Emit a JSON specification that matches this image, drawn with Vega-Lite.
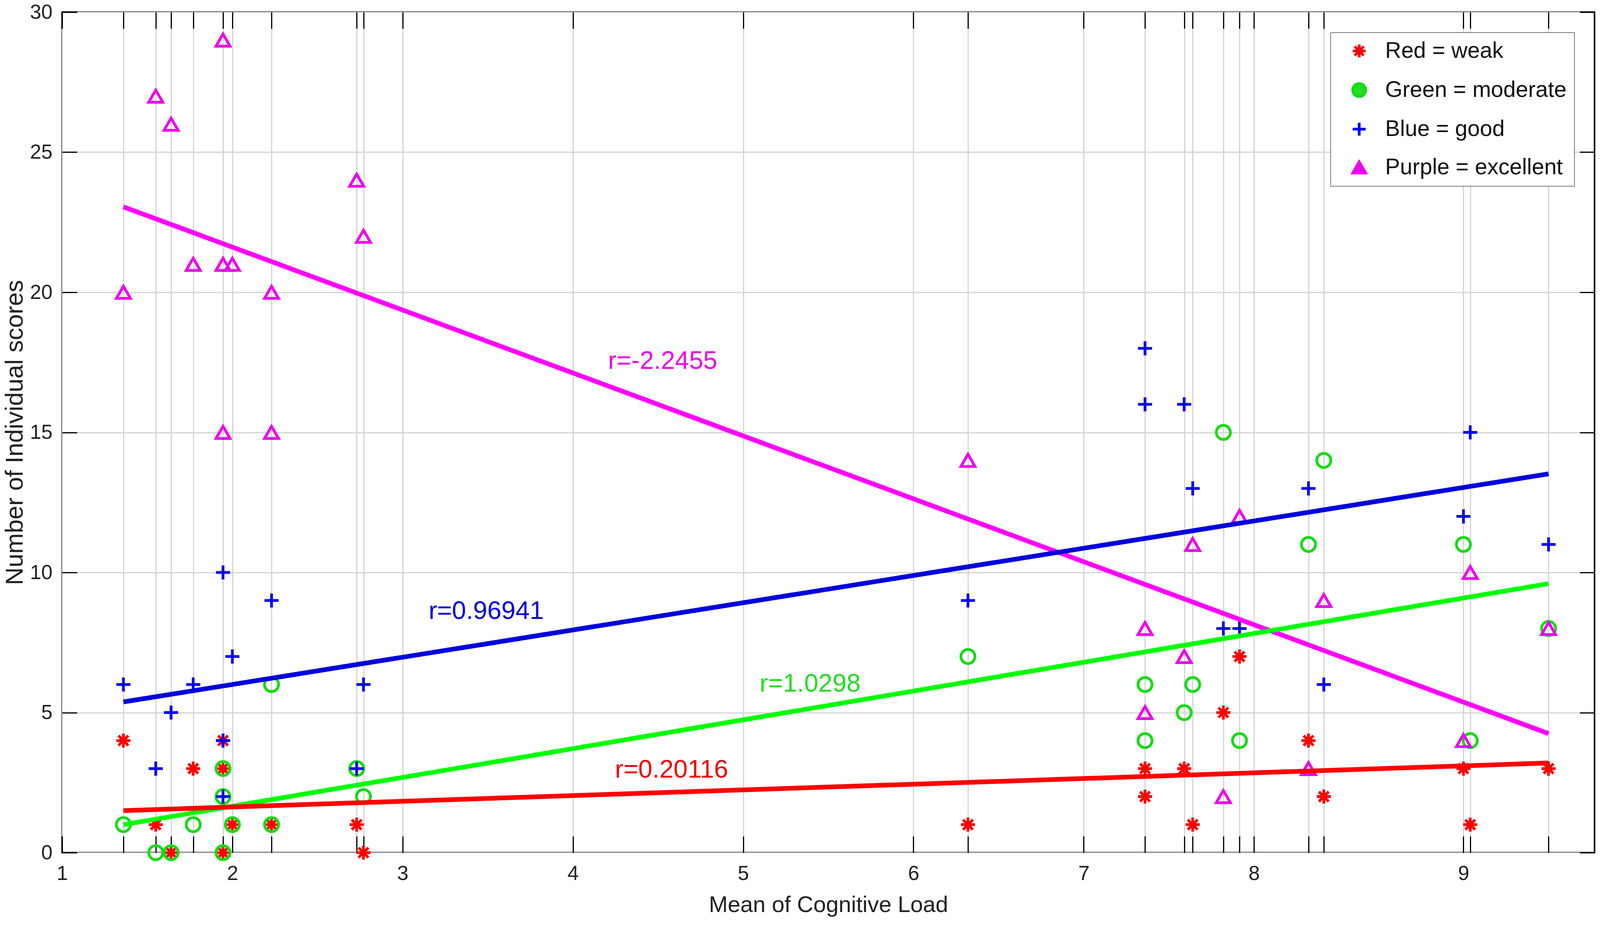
{
  "$schema": "https://vega.github.io/schema/vega-lite/v6.json",
  "width": "container",
  "height": 2403,
  "autosize": {"type": "fit", "contains": "padding"},
  "padding": {"left": 7, "top": 5, "right": 12, "bottom": 58},
  "background": "white",
  "config": {
    "view": {"stroke": "#000000", "strokeWidth": 4},
    "font": "Liberation Sans",
    "legend": {"symbolFillColor": "#ffffff", "symbolBaseFillColor": "#ffffff"}
  },
  "datasets": {
    "pts": [
      {"g": "Red = weak", "x": 1.36, "y": 4}, {"g": "Red = weak", "x": 1.55, "y": 1}, {"g": "Red = weak", "x": 1.64, "y": 0}, {"g": "Red = weak", "x": 1.77, "y": 3},
      {"g": "Red = weak", "x": 1.945, "y": 4}, {"g": "Red = weak", "x": 1.945, "y": 3}, {"g": "Red = weak", "x": 1.945, "y": 0}, {"g": "Red = weak", "x": 2.0, "y": 1},
      {"g": "Red = weak", "x": 2.23, "y": 1}, {"g": "Red = weak", "x": 2.73, "y": 1}, {"g": "Red = weak", "x": 2.77, "y": 0}, {"g": "Red = weak", "x": 6.32, "y": 1},
      {"g": "Red = weak", "x": 7.36, "y": 3}, {"g": "Red = weak", "x": 7.36, "y": 2}, {"g": "Red = weak", "x": 7.59, "y": 3}, {"g": "Red = weak", "x": 7.64, "y": 1},
      {"g": "Red = weak", "x": 7.82, "y": 5}, {"g": "Red = weak", "x": 7.915, "y": 7}, {"g": "Red = weak", "x": 8.32, "y": 4}, {"g": "Red = weak", "x": 8.41, "y": 2},
      {"g": "Red = weak", "x": 9.23, "y": 3}, {"g": "Red = weak", "x": 9.27, "y": 1}, {"g": "Red = weak", "x": 9.73, "y": 3},
      {"g": "Green = moderate", "x": 1.36, "y": 1}, {"g": "Green = moderate", "x": 1.55, "y": 0}, {"g": "Green = moderate", "x": 1.64, "y": 0}, {"g": "Green = moderate", "x": 1.77, "y": 1},
      {"g": "Green = moderate", "x": 1.945, "y": 3}, {"g": "Green = moderate", "x": 1.945, "y": 2}, {"g": "Green = moderate", "x": 1.945, "y": 0}, {"g": "Green = moderate", "x": 2.0, "y": 1},
      {"g": "Green = moderate", "x": 2.23, "y": 1}, {"g": "Green = moderate", "x": 2.23, "y": 6}, {"g": "Green = moderate", "x": 2.73, "y": 3}, {"g": "Green = moderate", "x": 2.77, "y": 2},
      {"g": "Green = moderate", "x": 6.32, "y": 7}, {"g": "Green = moderate", "x": 7.36, "y": 6}, {"g": "Green = moderate", "x": 7.36, "y": 4}, {"g": "Green = moderate", "x": 7.59, "y": 5},
      {"g": "Green = moderate", "x": 7.64, "y": 6}, {"g": "Green = moderate", "x": 7.82, "y": 15}, {"g": "Green = moderate", "x": 7.915, "y": 4}, {"g": "Green = moderate", "x": 8.32, "y": 11},
      {"g": "Green = moderate", "x": 8.41, "y": 14}, {"g": "Green = moderate", "x": 9.23, "y": 11}, {"g": "Green = moderate", "x": 9.27, "y": 4}, {"g": "Green = moderate", "x": 9.73, "y": 8},
      {"g": "Blue = good", "x": 1.36, "y": 6}, {"g": "Blue = good", "x": 1.55, "y": 3}, {"g": "Blue = good", "x": 1.64, "y": 5}, {"g": "Blue = good", "x": 1.77, "y": 6},
      {"g": "Blue = good", "x": 1.945, "y": 10}, {"g": "Blue = good", "x": 1.945, "y": 4}, {"g": "Blue = good", "x": 1.945, "y": 2}, {"g": "Blue = good", "x": 2.0, "y": 7},
      {"g": "Blue = good", "x": 2.23, "y": 9}, {"g": "Blue = good", "x": 2.73, "y": 3}, {"g": "Blue = good", "x": 2.77, "y": 6}, {"g": "Blue = good", "x": 6.32, "y": 9},
      {"g": "Blue = good", "x": 7.36, "y": 18}, {"g": "Blue = good", "x": 7.36, "y": 16}, {"g": "Blue = good", "x": 7.59, "y": 16}, {"g": "Blue = good", "x": 7.64, "y": 13},
      {"g": "Blue = good", "x": 7.82, "y": 8}, {"g": "Blue = good", "x": 7.915, "y": 8}, {"g": "Blue = good", "x": 8.32, "y": 13}, {"g": "Blue = good", "x": 8.41, "y": 6},
      {"g": "Blue = good", "x": 9.23, "y": 12}, {"g": "Blue = good", "x": 9.27, "y": 15}, {"g": "Blue = good", "x": 9.73, "y": 11},
      {"g": "Purple = excellent", "x": 1.36, "y": 20}, {"g": "Purple = excellent", "x": 1.55, "y": 27}, {"g": "Purple = excellent", "x": 1.64, "y": 26}, {"g": "Purple = excellent", "x": 1.77, "y": 21},
      {"g": "Purple = excellent", "x": 1.945, "y": 29}, {"g": "Purple = excellent", "x": 1.945, "y": 21}, {"g": "Purple = excellent", "x": 1.945, "y": 15}, {"g": "Purple = excellent", "x": 2.0, "y": 21},
      {"g": "Purple = excellent", "x": 2.23, "y": 20}, {"g": "Purple = excellent", "x": 2.23, "y": 15}, {"g": "Purple = excellent", "x": 2.73, "y": 24}, {"g": "Purple = excellent", "x": 2.77, "y": 22},
      {"g": "Purple = excellent", "x": 6.32, "y": 14}, {"g": "Purple = excellent", "x": 7.36, "y": 8}, {"g": "Purple = excellent", "x": 7.36, "y": 5}, {"g": "Purple = excellent", "x": 7.59, "y": 7},
      {"g": "Purple = excellent", "x": 7.64, "y": 11}, {"g": "Purple = excellent", "x": 7.82, "y": 2}, {"g": "Purple = excellent", "x": 7.915, "y": 12}, {"g": "Purple = excellent", "x": 8.32, "y": 3},
      {"g": "Purple = excellent", "x": 8.41, "y": 9}, {"g": "Purple = excellent", "x": 9.23, "y": 4}, {"g": "Purple = excellent", "x": 9.27, "y": 10}, {"g": "Purple = excellent", "x": 9.73, "y": 8}
    ],
    "fits": [
      {"g": "Purple = excellent", "x": 1.36, "y": 23.05}, {"g": "Purple = excellent", "x": 9.73, "y": 4.25},
      {"g": "Blue = good", "x": 1.36, "y": 5.38}, {"g": "Blue = good", "x": 9.73, "y": 13.52},
      {"g": "Green = moderate", "x": 1.36, "y": 1.0}, {"g": "Green = moderate", "x": 9.73, "y": 9.6},
      {"g": "Red = weak", "x": 1.36, "y": 1.5}, {"g": "Red = weak", "x": 9.73, "y": 3.2}
    ],
    "labels": [
      {"g": "Purple = excellent", "x": 4.206, "y": 17.55, "t": "r=-2.2455"},
      {"g": "Blue = good", "x": 3.153, "y": 8.62, "t": "r=0.96941"},
      {"g": "Green = moderate", "x": 5.097, "y": 6.02, "t": "r=1.0298"},
      {"g": "Red = weak", "x": 4.247, "y": 2.95, "t": "r=0.20116"}
    ]
  },
  "resolve": {"axis": {"x": "independent", "y": "independent"}},
  "layer": [
    {
      "data": {"name": "pts"},
      "mark": {"type": "point", "filled": false, "strokeWidth": 7, "size": 1300, "opacity": 1},
      "encoding": {
        "x": {
          "field": "x", "type": "quantitative",
          "scale": {"domain": [1, 10], "nice": false, "zero": false},
          "axis": {
            "orient": "bottom",
            "values": [1, 1.36, 1.55, 1.64, 1.77, 1.945, 2, 2.23, 2.73, 2.77, 3, 4, 5, 6, 6.32, 7, 7.36, 7.59, 7.64, 7.82, 7.915, 8, 8.32, 8.41, 9.23, 9.27, 9.73],
            "labelExpr": "datum.value === 9.23 ? '9' : (datum.value === round(datum.value) ? toString(datum.value) : '')",
            "labelOverlap": false, "labelFlush": false,
            "grid": true, "gridColor": "#d4d4d4", "gridWidth": 3,
            "domain": false,
            "ticks": true, "tickSize": -42, "tickWidth": 3, "tickColor": "#000000",
            "labelFontSize": 52, "labelFont": "Liberation Sans", "labelColor": "#222222", "labelPadding": 70,
            "title": "Mean of Cognitive Load", "titleFontSize": 58, "titleFontWeight": "normal", "titleFont": "Liberation Sans", "titleColor": "#222222", "titlePadding": 26
          }
        },
        "y": {
          "field": "y", "type": "quantitative",
          "scale": {"domain": [0, 30], "nice": false, "zero": false},
          "axis": {
            "orient": "left",
            "values": [0, 5, 10, 15, 20, 25, 30],
            "labelFlush": false, "labelOverlap": false,
            "grid": true, "gridColor": "#d4d4d4", "gridWidth": 3,
            "domain": false,
            "ticks": true, "tickSize": -38, "tickWidth": 3, "tickColor": "#000000",
            "labelFontSize": 52, "labelFont": "Liberation Sans", "labelColor": "#222222", "labelPadding": 63,
            "title": "Number of Individual scores", "titleFontSize": 63, "titleFontWeight": "normal", "titleFont": "Liberation Sans", "titleColor": "#222222", "titlePadding": 6
          }
        },
        "stroke": {
          "field": "g", "type": "nominal",
          "scale": {"domain": ["Red = weak", "Green = moderate", "Blue = good", "Purple = excellent"], "range": ["#ff0000", "#11dd11", "#0000ee", "#ee00ee"]},
          "legend": {
            "title": null, "orient": "top-right", "offset": 52,
            "strokeColor": "#000000", "fillColor": "#ffffff",
            "padding": 19, "rowPadding": 37, "symbolOffset": 26,
            "labelFontSize": 57, "labelFont": "Liberation Sans", "labelColor": "#111111", "labelOffset": 38, "labelLimit": 0,
            "symbolSize": 1100, "symbolStrokeWidth": 7, "symbolFillColor": "#ffffff",
            "encode": {
              "legend": {"update": {"strokeWidth": {"value": 3}}},
              "symbols": {"enter": {"fill": {"value": "#ffffff"}}, "update": {"fill": {"value": "#ffffff"}}}
            }
          }
        },
        "shape": {
          "field": "g", "type": "nominal",
          "scale": {"domain": ["Red = weak", "Green = moderate", "Blue = good", "Purple = excellent"], "range": ["M0,-1L0,1M-1,0L1,0M-0.7,-0.7L0.7,0.7M-0.7,0.7L0.7,-0.7", "circle", "M-1,0L1,0M0,-1L0,1", "triangle-up"]},
          "legend": {"title": null, "symbolFillColor": "#ffffff", "encode": {"symbols": {"update": {"fill": {"value": "#ffffff"}}}}}
        }
      }
    },
    {
      "data": {"name": "fits"},
      "mark": {"type": "line", "strokeWidth": 12},
      "encoding": {
        "x": {"field": "x", "type": "quantitative", "axis": {"orient": "top", "values": [1, 1.36, 1.55, 1.64, 1.77, 1.945, 2, 2.23, 2.73, 2.77, 3, 4, 5, 6, 6.32, 7, 7.36, 7.59, 7.64, 7.82, 7.915, 8, 8.32, 8.41, 9.23, 9.27, 9.73], "labels": false, "grid": false, "domain": false, "ticks": true, "tickSize": -42, "tickWidth": 3, "tickColor": "#000000", "title": null, "minExtent": 0, "maxExtent": 0}},
        "y": {"field": "y", "type": "quantitative", "axis": {"orient": "right", "values": [0, 5, 10, 15, 20, 25, 30], "labels": false, "grid": false, "domain": false, "ticks": true, "tickSize": -38, "tickWidth": 3, "tickColor": "#000000", "title": null, "minExtent": 0, "maxExtent": 0}},
        "color": {
          "field": "g", "type": "nominal", "legend": null,
          "scale": {"domain": ["Red = weak", "Green = moderate", "Blue = good", "Purple = excellent"], "range": ["#ff0000", "#00ff00", "#0000dd", "#ff00ff"]}
        },
        "detail": {"field": "g"}
      }
    },
    {
      "data": {"name": "labels"},
      "mark": {"type": "text", "align": "left", "baseline": "middle", "fontSize": 65, "font": "Liberation Sans"},
      "encoding": {
        "x": {"field": "x", "type": "quantitative", "axis": null},
        "y": {"field": "y", "type": "quantitative", "axis": null},
        "text": {"field": "t"},
        "fill": {
          "field": "g", "type": "nominal", "legend": null,
          "scale": {"domain": ["Red = weak", "Green = moderate", "Blue = good", "Purple = excellent"], "range": ["#ee0000", "#22dd22", "#0000dd", "#ee00ee"]}
        }
      }
    }
  ]
}
